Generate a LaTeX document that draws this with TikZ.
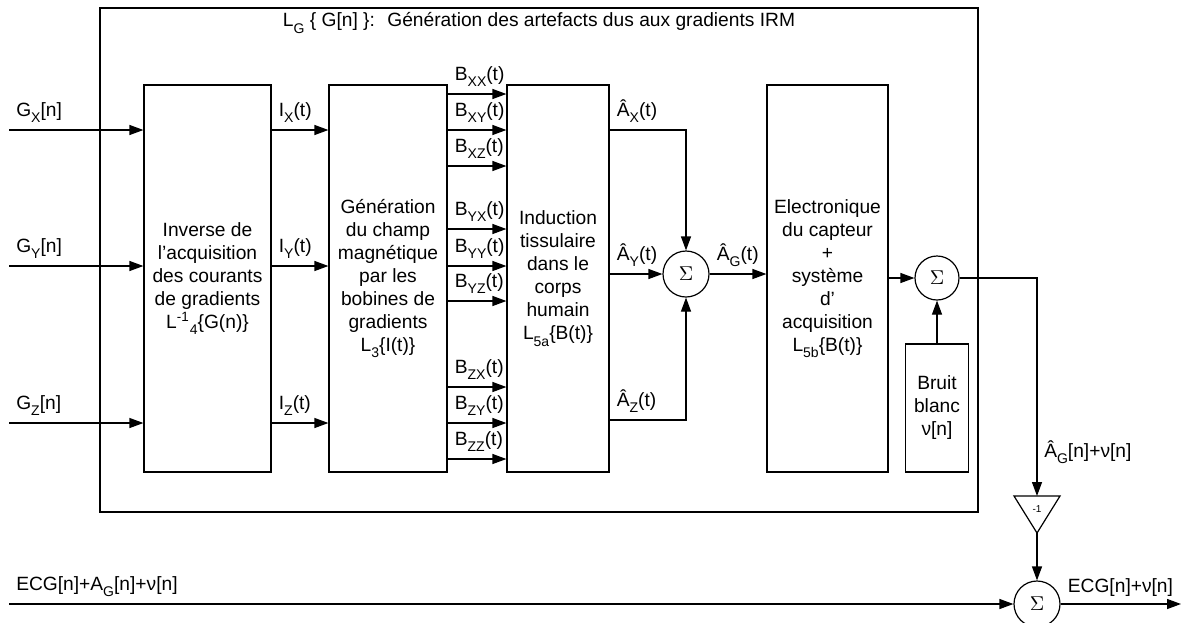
\documentclass[tikz,border=0pt]{standalone}
\usepackage{fontspec}
\setmainfont{Liberation Sans}
\usetikzlibrary{arrows.meta}
\newcommand{\indice}[1]{\raisebox{-3.2pt}{\fontsize{7}{8}\selectfont #1}}

\begin{document}
\begin{tikzpicture}[x=0.5pt, y=-0.5pt, >={Triangle[length=7pt,width=5pt]}, line width=0.6pt,
		every node/.style={font=\fontsize{9.6}{11.5}\selectfont},
		bloc/.style={draw, align=center, minimum height=193.5pt, inner sep=0pt},
		somme/.style={draw, circle, minimum size=23pt, inner sep=0pt},
		lab/.style={above right}]
	\useasboundingbox (0,0) rectangle (1182,622);
	% chaine de generation des artefacts IRM
	\draw (100,8) rectangle (978,512);
	\node (titre) at (539,23) {L\indice{G} \{ G[n] \}:~ Génération des artefacts dus aux gradients IRM};
	
	\node[bloc, minimum width=63.5pt] (inv) at (207.5,278.5) {Inverse de\\l’acquisition\\des courants\\de gradients\\L\textsuperscript{-1}\indice{4}\{G(n)\}};
	\node[bloc, minimum width=59pt] (champ) at (388,278.5) {Génération\\du champ\\magnétique\\par les\\bobines de\\gradients\\L\indice{3}\{I(t)\}};
	\node[bloc, minimum width=51pt] (ind) at (558,278.5) {Induction\\tissulaire\\dans le\\corps\\humain\\L\indice{5a}\{B(t)\}};
	\node[bloc, minimum width=60.5pt] (elec) at (827.5,278.5) {Electronique\\du capteur\\+\\système\\d’\\acquisition\\L\indice{5b}\{B(t)\}};
	\node[draw, align=center, minimum width=31.5pt, minimum height=64pt, inner sep=0pt] (bruit) at (937,408) {Bruit\\blanc\\ν[n]};
	
	\node[somme] (s1) at (686,274) {$\Sigma$};
	\node[somme, minimum size=22pt] (s2) at (937,278) {$\Sigma$};
	\node[somme] (s3) at (1037,604) {$\Sigma$};
	
	\node[font=\fontsize{5}{6}\selectfont] (gain) at (1037,509) {-1};
	\coordinate (gh) at (1037,496);
	\coordinate (gb) at (1037,533);
	\draw (1014,496) -- (1060,496) -- (gb) -- cycle;
	
	\foreach \y/\c in {130/X,266/Y,423/Z} {
		\coordinate (g\c) at (9,\y);
		\draw[->] (g\c) -- (inv.west |- g\c) node[pos=0, lab] {G\indice{\c}[n]};
		\draw[->] (inv.east |- g\c) -- (champ.west |- g\c) node[pos=0, lab] {I\indice{\c}(t)};
	}
	\foreach \y/\c in {94/XX,130/XY,166/XZ,229/YX,266/YY,301/YZ,387/ZX,423/ZY,459/ZZ}
		\draw[->] (champ.east |- 0,\y) -- (ind.west |- 0,\y) node[pos=0, lab] {B\indice{\c}(t)};
	
	\draw[->] (ind.east |- 0,130) -| (s1.north) node[pos=0, lab] {Â\indice{X}(t)};
	\draw[->] (ind.east |- s1) -- (s1.west) node[pos=0, lab] {Â\indice{Y}(t)};
	\draw[->] (ind.east |- 0,420) -| (s1.south) node[pos=0, lab] {Â\indice{Z}(t)};
	\draw[->] (s1.east) -- (elec.west |- s1) node[pos=0, lab] {Â\indice{G}(t)};
	\draw[->] (elec.east |- s2) -- (s2.west);
	\draw[->] (bruit.north) -- (s2.south);
	\draw[->] (s2.east) -| (gh) node[pos=0.9, right] {Â\indice{G}[n]+ν[n]};
	\draw[->] (gb) -- (s3.north);
	
	\coordinate (ecg) at (9,604);
	\coordinate (sortie) at (1181,604);
	\draw[->] (ecg) -- (s3.west) node[pos=0, lab] {ECG[n]+A\indice{G}[n]+ν[n]};
	\draw[->] (s3.east) -- (sortie) node[pos=0, lab] {ECG[n]+ν[n]};
\end{tikzpicture}
\end{document}
